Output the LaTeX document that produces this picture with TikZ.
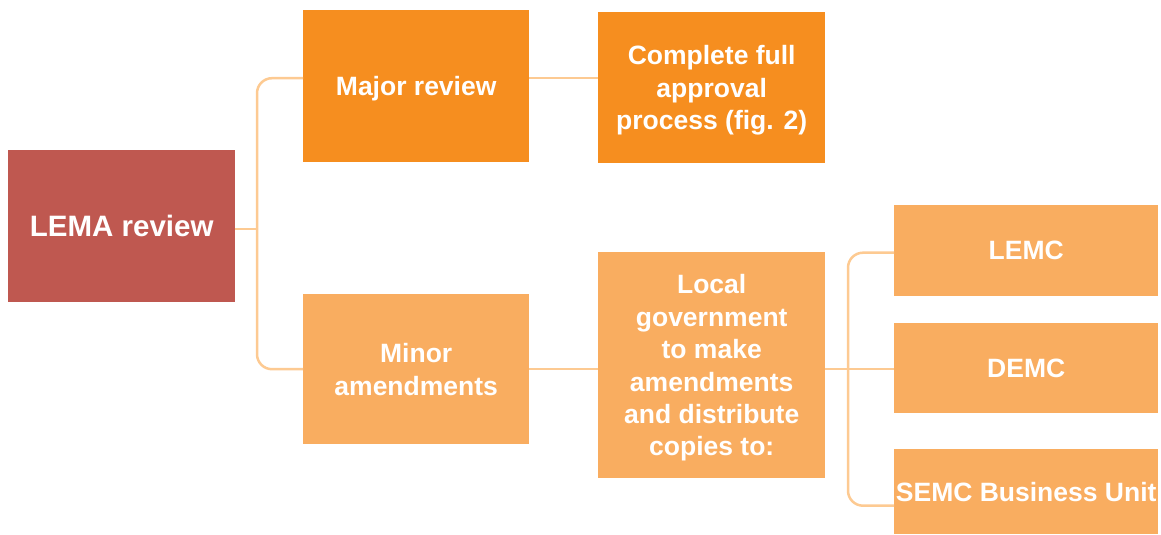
\documentclass[tikz,border=0pt]{standalone}
\usepackage{fontspec}
\setmainfont{Liberation Sans}
\definecolor{lemared}{HTML}{BF5850}
\definecolor{majorog}{HTML}{F68E1F}
\definecolor{lightog}{HTML}{F9AD60}
\definecolor{lineog}{HTML}{FDCA92}
\begin{document}
\begin{tikzpicture}[x=1pt,y=-1pt,
  box/.style={anchor=north west, inner sep=0pt, text=white, align=center, text depth=0pt,
    font=\fontsize{26.5}{32.4}\selectfont\bfseries},
  conn/.style={draw=lineog, line width=2.5pt, rounded corners=15pt}]
\useasboundingbox (0,0) rectangle (1161,535);
\node[box, fill=lemared, minimum width=227pt, minimum height=152pt,
  font=\fontsize{29.5}{34}\selectfont\bfseries] (lema) at (8,150) {LEMA review};
\node[box, fill=majorog, minimum width=226pt, minimum height=152pt] (major) at (303,10) {Major review};
\node[box, fill=majorog, minimum width=227pt, minimum height=151pt] (full) at (598,12) {Complete full\\approval\\process (fig. 2)};
\node[box, fill=lightog, minimum width=226pt, minimum height=150pt] (minor) at (303,294) {Minor\\amendments};
\node[box, fill=lightog, minimum width=227pt, minimum height=226pt] (local) at (598,252) {Local\\government\\to make\\amendments\\and distribute\\copies to:};
\node[box, fill=lightog, minimum width=264pt, minimum height=91pt] (lemc) at (894,205) {LEMC};
\node[box, fill=lightog, minimum width=264pt, minimum height=90pt] (demc) at (894,323) {DEMC};
\node[box, fill=lightog, minimum width=264pt, minimum height=85pt] (semc) at (894,449) {SEMC Business Unit};
% connectors
\coordinate (j1) at (257,229);
\coordinate (j2) at (848,369);
\draw[conn] ([yshift=8pt]major.west) -| (j1) |- (minor.west);
\draw[conn] (lema.east |- j1) -- (j1);
\draw[conn] ([yshift=8pt]major.east) -- ([yshift=8pt]major.east -| full.west);
\draw[conn] (minor.east) -- (local.west |- minor.east);
\draw[conn] ([yshift=-2pt]lemc.west) -| (j2) |- ([yshift=-14pt]semc.west);
\draw[conn] (local.east |- j2) -- (demc.west |- j2);
\end{tikzpicture}
\end{document}
